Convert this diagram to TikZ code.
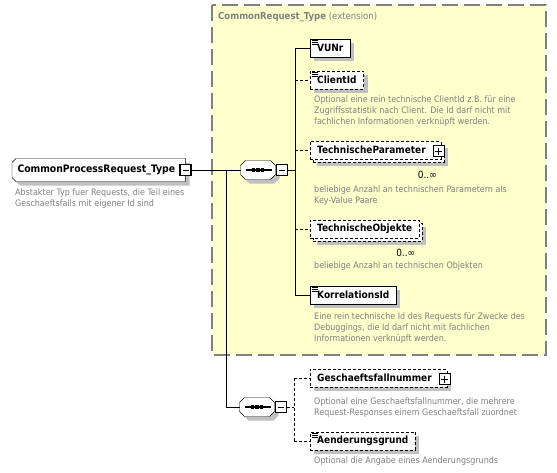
\documentclass[tikz,border=0pt]{standalone}
\usepackage{fontspec}
\setmainfont{DejaVu Sans Condensed}
\usetikzlibrary{calc,positioning,shadows}
\definecolor{extyellow}{RGB}{255,255,204}
\definecolor{extborder}{RGB}{128,128,128}
\definecolor{docgray}{RGB}{128,128,128}
\definecolor{shadegray}{RGB}{192,192,192}
\pgfdeclarelayer{background}
\pgfsetlayers{background,main}

% outline with cut corners round a node: node, left cut, right cut
\newcommand\chamferpath[3]{%
  ($(#1.north west)+(#2,0)$) -- ($(#1.north east)+(-#3,0)$)
  -- ($(#1.north east)+(0,#3)$) -- ($(#1.south east)+(0,-#3)$)
  -- ($(#1.south east)+(-#3,0)$) -- ($(#1.south west)+(#2,0)$)
  -- ($(#1.south west)+(0,-#2)$) -- ($(#1.north west)+(0,#2)$) -- cycle}

\tikzset{
  boxshadow/.style={general shadow={fill=shadegray, shadow xshift=4pt, shadow yshift=-4pt}},
  multibox/.style={general shadow={fill=shadegray, shadow xshift=7pt, shadow yshift=-7pt},
    preaction={draw, fill=white, dash pattern=on 3pt off 2pt,
      transform canvas={shift={(3pt,-3pt)}}}},
  elem/.style={draw, fill=white, anchor=west, minimum height=18pt,
    inner xsep=7pt, inner ysep=2pt, font=\bfseries\fontsize{10}{12}\selectfont},
  optional/.style={dash pattern=on 3pt off 2pt},
  withplus/.style={execute at end node={\hspace*{8pt}}},
  typebox/.style={anchor=west, minimum height=22pt, inner xsep=5pt,
    font=\bfseries\fontsize{10.3}{12}\selectfont,
    execute at end node={\hspace*{5pt}}},
  seqbox/.style={minimum width=34pt, minimum height=18pt, inner sep=0pt},
  pmbox/.style={draw, fill=white, minimum size=11pt, inner sep=0pt},
  minusbox/.style={pmbox, line width=1.3pt, path picture={
      \draw[line width=1pt] ($(path picture bounding box.west)+(2.5,0)$)
        -- ($(path picture bounding box.east)+(-2.5,0)$);}},
  plusbox/.style={pmbox, path picture={
      \draw[line width=1pt] ($(path picture bounding box.west)+(2,0)$)
        -- ($(path picture bounding box.east)+(-2,0)$);
      \draw[line width=1pt] ($(path picture bounding box.north)+(0,2)$)
        -- ($(path picture bounding box.south)+(0,-2)$);}},
  doc/.style={anchor=north west, align=left, inner sep=0pt, text=docgray,
    font=\fontsize{8.9}{11}\selectfont},
  mult/.style={anchor=east, inner sep=0pt, font=\fontsize{10}{12}\selectfont}
}

\begin{document}
\begin{tikzpicture}[
    x=1pt, y=-1pt,
    line width=1pt,
    font=\fontsize{9}{11}\selectfont
  ]
  \useasboundingbox (0,0) rectangle (557,472);

  % root type and sequences
  \node[typebox] (root) at (12,170) {CommonProcessRequest\_Type};
  \node[seqbox] (seqa) at (258,170) {};
  \node[seqbox] (seqb) at (257,407) {};

  \begin{pgfonlayer}{background}
    % extension frame
    \draw[extborder, fill=extyellow, line width=1.2pt, dash pattern=on 16pt off 6pt]
      (212,5) rectangle (546,355);
    % outlines with shadow
    \foreach \n/\l/\r in {root/4/0, seqa/5/5, seqb/5/5} {
      \fill[shadegray, transform canvas={shift={(4pt,-4pt)}}] \chamferpath{\n}{\l}{\r};
      \draw[fill=white] \chamferpath{\n}{\l}{\r};
    }
  \end{pgfonlayer}

  \node[anchor=west, text=docgray, inner sep=0pt, font=\fontsize{9.5}{11}\selectfont]
    (exttitle) at (218,17) {\textbf{CommonRequest\_Type} (extension)};

  \node[minusbox] (rootpm) at (root.east) {};
  \node[doc] (rootdoc) at (15,188.5)
    {Abstakter Typ fuer Requests, die Teil eines\\Geschaeftsfalls mit eigener Id sind};

  % sequence marks
  \foreach \n in {seqa, seqb} {
    \draw[line width=1.2pt] ($(\n.west)+(5,0)$) -- ($(\n.east)+(-4,0)$);
    \foreach \dx in {-4.5,0,4.5}
      \fill ($(\n.center)+(\dx,0)$) +(-1.6,-1.6) rectangle +(1.6,1.6);
  }
  \node[minusbox, anchor=west] (seqapm) at (seqa.east) {};
  \node[minusbox, anchor=west] (seqbpm) at (seqb.east) {};
  \coordinate (rootbus) at (226,0);
  \coordinate (busa) at (295,0);
  \coordinate (busb) at (294,0);

  % elements
  \node[elem, boxshadow] (vunr) at (310,48) {VUNr};
  \node[elem, optional, boxshadow] (clientid) at (310,80) {ClientId};
  \node[elem, optional, multibox, withplus] (techparam) at (310,150) {TechnischeParameter};
  \node[plusbox] (techparampm) at ($(techparam.east)+(-2,1)$) {};
  \node[elem, optional, multibox] (techobj) at (310,229) {TechnischeObjekte};
  \node[elem, boxshadow] (korrid) at (310,295) {KorrelationsId};
  \node[elem, optional, boxshadow, withplus] (gfnr) at (310,378) {Geschaeftsfallnummer};
  \node[plusbox] (gfnrpm) at ($(gfnr.east)+(-2,1)$) {};
  \node[elem, optional, boxshadow] (aegrund) at (310,441) {Aenderungsgrund};

  % simple content marks
  \foreach \n in {vunr, clientid, korrid, aegrund}
    \foreach \dy in {2,3.7,5.4}
      \draw[line width=0.7pt] ($(\n.north west)+(2,\dy)$) -- ++(6,0);

  % multiplicities
  \node[mult] (techparammult) at ($(techparam.south east)+(-4,16)$) {0..∞};
  \node[mult] (techobjmult) at ($(techobj.south east)+(-4,15)$) {0..∞};

  % documentation
  \node[doc] (clientiddoc) at (314,96)
    {Optional eine rein technische ClientId z.B. für eine\\Zugriffsstatistik nach Client. Die Id darf nicht mit\\fachlichen Informationen verknüpft werden.};
  \node[doc] (techparamdoc) at (314,186)
    {beliebige Anzahl an technischen Parametern als\\Key-Value Paare};
  \node[doc] (techobjdoc) at (314,262)
    {beliebige Anzahl an technischen Objekten};
  \node[doc] (korriddoc) at (314,313)
    {Eine rein technische Id des Requests für Zwecke des\\Debuggings, die Id darf nicht mit fachlichen\\Informationen verknüpft werden.};
  \node[doc] (gfnrdoc) at (314,397.5)
    {Optional eine Geschaeftsfallnummer, die mehrere\\Request-Responses einem Geschaeftsfall zuordnet};
  \node[doc] (aegrunddoc) at (314,456.5)
    {Optional die Angabe eines Aenderungsgrunds};

  % connectors
  \draw (rootpm.east) -- (rootpm.east -| seqa.west);
  \draw (rootbus |- seqa.west) |- (seqb.west);
  \draw (seqapm.east) -- (busa |- seqapm.east);
  \draw (busa |- vunr.west) -- (busa |- korrid.west);
  \foreach \n/\s in {vunr/solid, clientid/optional, techparam/optional,
                     techobj/optional, korrid/solid}
    \draw[\s] (busa |- \n.west) -- (\n.west);
  \draw[optional] (seqbpm.east) -- (busb |- seqbpm.east);
  \draw[optional] (busb |- gfnr.west) -- (busb |- aegrund.west);
  \foreach \n in {gfnr, aegrund}
    \draw[optional] (busb |- \n.west) -- (\n.west);
\end{tikzpicture}
\end{document}
